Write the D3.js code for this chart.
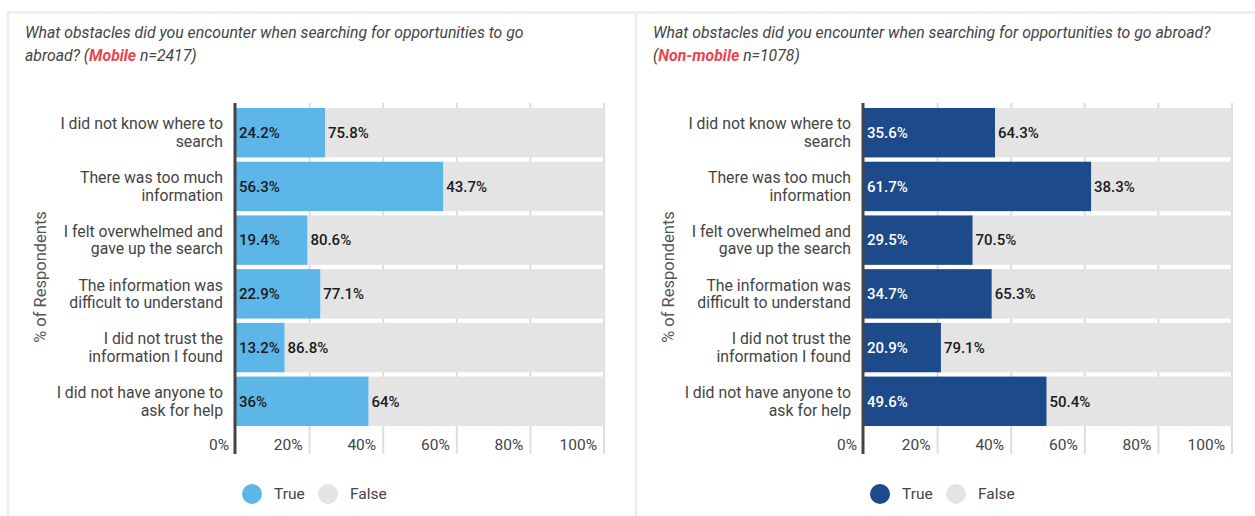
<!DOCTYPE html>
<html>
<head>
<meta charset="utf-8">
<script src="https://cdn.jsdelivr.net/npm/d3@7"></script>
<style>
  body { margin: 0; background: #fff; font-family: Roboto, "Noto Sans", sans-serif; }
  svg text { font-family: Roboto, "Noto Sans", sans-serif; }
</style>
</head>
<body>
<svg id="chart" width="1255" height="516"></svg>
<script>
// categories (| marks the line break used in the picture)
var categories = [
  "I did not know where to|search",
  "There was too much|information",
  "I felt overwhelmed and|gave up the search",
  "The information was|difficult to understand",
  "I did not trust the|information I found",
  "I did not have anyone to|ask for help"
];

var mobileTrue  = [24.2, 56.3, 19.4, 22.9, 13.2, 36];
var mobileFalse = [75.8, 43.7, 80.6, 77.1, 86.8, 64];
var nonMobileTrue  = [35.6, 61.7, 29.5, 34.7, 20.9, 49.6];
var nonMobileFalse = [64.3, 38.3, 70.5, 65.3, 79.1, 50.4];

var tickValues = [0, 20, 40, 60, 80, 100];
var legendLabels = ["True", "False"];

var panels = [
  {
    title1: "What obstacles did you encounter when searching for opportunities to go",
    title2: ["abroad? (", "Mobile", " n=2417)"],
    trueVals: mobileTrue, falseVals: mobileFalse,
    color: "#5cb6e8", trueText: "#1b1b1b", dx: 0
  },
  {
    title1: "What obstacles did you encounter when searching for opportunities to go abroad?",
    title2: ["(", "Non-mobile", " n=1078)"],
    trueVals: nonMobileTrue, falseVals: nonMobileFalse,
    color: "#1d4a8b", trueText: "#ffffff", dx: 628
  }
];

var svg = d3.select("#chart");

var x = d3.scaleLinear().domain([0, 100]).range([236, 604]);
var y = d3.scaleBand().domain(d3.range(categories.length))
    .range([108, 426]).paddingInner(0.08).paddingOuter(0);

panels.forEach(function(p) {
  var g = svg.append("g").attr("transform", "translate(" + p.dx + ",0)");

  // card
  g.append("rect")
    .attr("x", 8).attr("y", 12.5)
    .attr("width", 629).attr("height", 540)
    .attr("fill", "#fff")
    .attr("stroke", "#ececef").attr("stroke-width", 2.5);

  // title
  g.append("text")
    .attr("x", 25).attr("y", 38)
    .attr("font-size", 15.8).attr("font-style", "italic").attr("fill", "#444")
    .text(p.title1);
  var t2 = g.append("text")
    .attr("x", 25).attr("y", 61)
    .attr("font-size", 15.8).attr("font-style", "italic").attr("fill", "#444");
  t2.append("tspan").text(p.title2[0]);
  t2.append("tspan").attr("fill", "#e8474f").attr("font-weight", "bold").text(p.title2[1]);
  t2.append("tspan").text(p.title2[2]);

  // grid lines
  g.selectAll(".grid").data(tickValues.slice(1)).enter().append("line")
    .attr("x1", function(d) { return x(d); }).attr("x2", function(d) { return x(d); })
    .attr("y1", 103).attr("y2", 454)
    .attr("stroke", "#dcdcdc").attr("stroke-width", 2);

  // false bars (stacked after true)
  g.selectAll(".fbar").data(p.falseVals).enter().append("rect")
    .attr("x", function(d, i) { return x(p.trueVals[i]); })
    .attr("y", function(d, i) { return y(i); })
    .attr("width", function(d, i) { return x(p.trueVals[i] + d) - x(p.trueVals[i]); })
    .attr("height", y.bandwidth())
    .attr("fill", "#e4e4e4");

  // true bars
  g.selectAll(".tbar").data(p.trueVals).enter().append("rect")
    .attr("x", x(0))
    .attr("y", function(d, i) { return y(i); })
    .attr("width", function(d) { return x(d) - x(0); })
    .attr("height", y.bandwidth())
    .attr("fill", p.color);

  // value labels
  g.selectAll(".tlab").data(p.trueVals).enter().append("text")
    .attr("x", x(0) + 3)
    .attr("y", function(d, i) { return y(i) + y.bandwidth() / 2; })
    .attr("dy", "0.35em")
    .attr("font-size", 15).attr("font-weight", 500).attr("fill", p.trueText)
    .text(function(d) { return d + "%"; });

  g.selectAll(".flab").data(p.falseVals).enter().append("text")
    .attr("x", function(d, i) { return x(p.trueVals[i]) + 3; })
    .attr("y", function(d, i) { return y(i) + y.bandwidth() / 2; })
    .attr("dy", "0.35em")
    .attr("font-size", 15).attr("font-weight", 500).attr("fill", "#1b1b1b")
    .text(function(d) { return d + "%"; });

  // axis line
  g.append("line")
    .attr("x1", x(0) - 1).attr("x2", x(0) - 1)
    .attr("y1", 103).attr("y2", 454)
    .attr("stroke", "#444").attr("stroke-width", 3);

  // x tick labels (right aligned left of grid line)
  g.selectAll(".xlab").data(tickValues).enter().append("text")
    .attr("x", function(d) { return x(d) - 7; })
    .attr("y", 445)
    .attr("dy", "0.35em")
    .attr("text-anchor", "end")
    .attr("font-size", 15.5).attr("fill", "#444")
    .text(function(d) { return d + "%"; });

  // category labels
  g.selectAll(".cat").data(categories).enter().append("text")
    .attr("text-anchor", "end")
    .attr("font-size", 15.8).attr("fill", "#444")
    .each(function(d, i) {
      var lines = d.split("|");
      var cy = y(i) + y.bandwidth() / 2;
      var sel = d3.select(this);
      lines.forEach(function(l, k) {
        sel.append("tspan")
          .attr("x", 223)
          .attr("y", cy + (k - (lines.length - 1) / 2) * 17.5)
          .attr("dy", "0.35em")
          .text(l);
      });
    });

  // y axis title
  g.append("text")
    .attr("transform", "translate(40,277) rotate(-90)")
    .attr("text-anchor", "middle").attr("dy", "0.35em")
    .attr("font-size", 16.5).attr("fill", "#555")
    .text("% of Respondents");

  // legend
  var legendColors = [p.color, "#e4e4e4"];
  var leg = g.selectAll(".leg").data(legendLabels).enter().append("g")
    .attr("transform", function(d, i) { return "translate(" + (252 + i * 76) + ",494)"; });
  leg.append("circle").attr("r", 10).attr("fill", function(d, i) { return legendColors[i]; });
  leg.append("text")
    .attr("x", 22).attr("dy", "0.35em")
    .attr("font-size", 15.5).attr("fill", "#444")
    .text(function(d) { return d; });
});
</script>
</body>
</html>
